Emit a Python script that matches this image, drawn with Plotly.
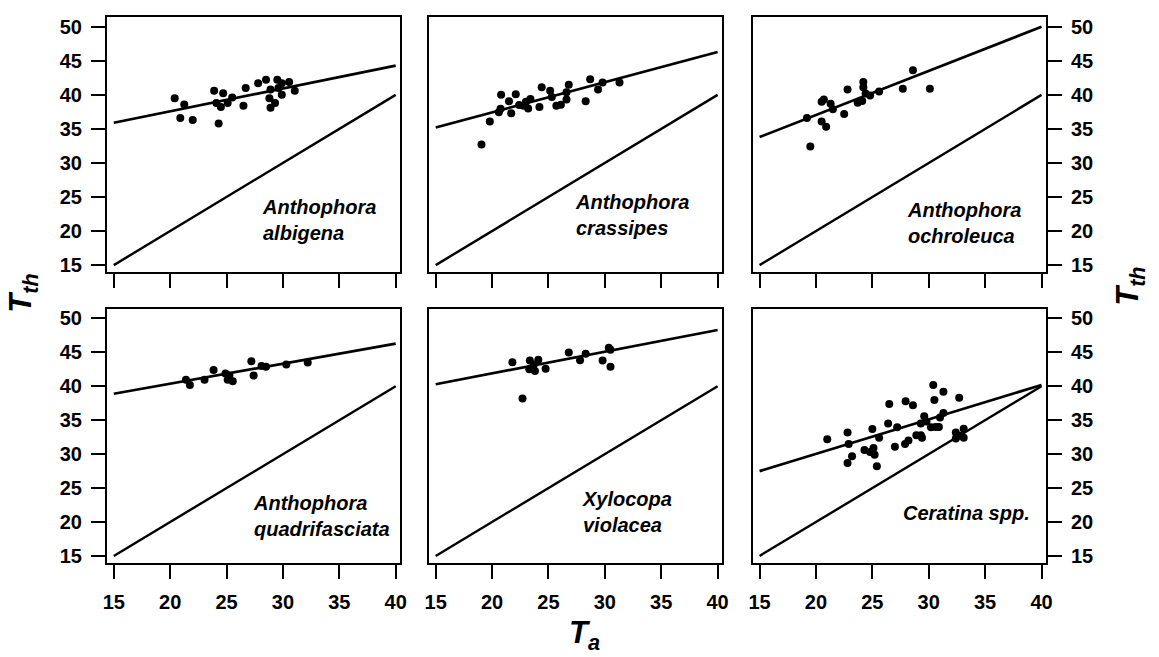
import plotly.graph_objects as go

# ---------------- data ----------------
species = ["Anthophora<br>albigena", "Anthophora<br>crassipes", "Anthophora<br>ochroleuca",
           "Anthophora<br>quadrifasciata", "Xylocopa<br>violacea", "Ceratina spp."]

ta_1 = [20.4, 21.25, 20.9, 22.0, 23.9, 24.7, 24.1, 24.5, 24.3, 25.1, 25.5, 26.5, 26.7,
        27.8, 28.5, 28.8, 28.9, 28.9, 29.3, 29.5, 29.9, 29.9, 30.55, 31.05, 29.6]
tth_1 = [39.5, 38.6, 36.6, 36.3, 40.6, 40.25, 38.8, 38.2, 35.8, 38.8, 39.6, 38.4, 41.0,
         41.7, 42.2, 39.5, 38.1, 40.8, 38.8, 42.2, 41.7, 40.0, 41.9, 40.6, 41.0]

ta_2 = [19.06, 19.8, 20.6, 20.8, 20.75, 21.5, 21.7, 22.1, 22.4, 22.8, 23.2, 23.4, 24.2,
        24.4, 25.15, 25.3, 25.7, 26.1, 26.6, 26.8, 26.6, 28.3, 28.7, 29.4, 29.8, 31.3, 23.0]
tth_2 = [32.7, 36.1, 37.45, 40.0, 37.95, 39.06, 37.3, 40.1, 38.5, 38.4, 38.0, 39.4, 38.2,
         41.1, 40.6, 39.7, 38.4, 38.55, 39.3, 41.5, 40.4, 39.06, 42.3, 40.8, 41.8, 41.8, 39.0]

ta_3 = [19.2, 19.5, 20.5, 20.7, 20.5, 20.9, 21.3, 21.5, 22.5, 22.8, 23.7, 24.2, 24.2,
        24.4, 24.8, 25.6, 27.7, 28.6, 30.1, 24.1]
tth_3 = [36.6, 32.4, 39.0, 39.3, 36.1, 35.3, 38.7, 37.9, 37.2, 40.8, 38.85, 41.9, 41.1,
         40.2, 39.9, 40.5, 40.9, 43.6, 40.9, 39.1]

ta_4 = [21.4, 21.75, 23.05, 23.85, 24.9, 25.1, 25.55, 25.25, 27.2, 27.4, 28.1, 28.5, 30.3, 32.2]
tth_4 = [40.95, 40.2, 40.95, 42.4, 41.9, 40.95, 40.75, 41.6, 43.7, 41.6, 43.0, 42.9, 43.2, 43.5]

ta_5 = [21.8, 22.7, 23.35, 23.3, 23.7, 23.8, 24.1, 24.75, 26.8, 27.8, 28.3, 29.8, 30.35, 30.5, 30.5]
tth_5 = [43.55, 38.2, 43.8, 42.5, 43.2, 42.25, 43.9, 42.6, 45.0, 43.85, 44.8, 43.8, 45.7, 45.4, 42.9]

ta_6 = [21.0, 22.8, 22.9, 23.2, 22.8, 24.3, 25.0, 25.1, 25.2, 25.4, 25.6, 24.8, 26.4, 26.5,
        27.0, 27.2, 27.95, 27.9, 28.2, 28.6, 28.9, 29.3, 29.4, 29.6, 29.8, 30.2, 30.4, 30.5,
        30.6, 30.9, 31.3, 31.3, 31.0, 32.4, 32.4, 32.7, 33.1, 33.1, 32.8, 29.3]
tth_6 = [32.2, 33.2, 31.5, 29.7, 28.7, 30.6, 33.7, 30.9, 29.9, 28.2, 32.4, 30.3, 34.5, 37.4,
         31.1, 33.95, 37.8, 31.5, 32.0, 37.2, 32.8, 34.5, 32.4, 35.6, 34.8, 33.95, 40.2, 38.0,
         34.0, 34.0, 39.2, 36.05, 35.4, 33.2, 32.3, 38.3, 33.75, 32.4, 32.7, 32.8]

# regression lines: T_th at T_a = 15 and at T_a = 40
reg_at15 = [35.9, 35.2, 33.8, 38.9, 40.3, 27.5]
reg_at40 = [44.3, 46.3, 50.0, 46.3, 48.3, 40.2]
line_x = [15, 40]            # T_a range of drawn lines
iso_y = [15, 40]             # T_th = T_a reference line

# species label anchor (data coords, left edge / vertical middle)
lab_x = [28.0, 27.2, 27.9, 27.2, 27.8, 27.5]
lab_y = [21.6, 22.4, 21.2, 20.9, 21.45, 21.3]

x_ticks = [15, 20, 25, 30, 35, 40]
y_ticks = [15, 20, 25, 30, 35, 40, 45, 50]

tas = [ta_1, ta_2, ta_3, ta_4, ta_5, ta_6]
tths = [tth_1, tth_2, tth_3, tth_4, tth_5, tth_6]

# ---------------- layout ----------------
W, H = 1159, 657
col_px = [(104, 400), (429, 725), (756, 1052)]
row_px = [(16, 273), (310, 566)]
FONT = "Liberation Sans, Arial, sans-serif"
TICKFONT = dict(family=FONT, size=20, color="black", weight="bold")

fig = go.Figure()
layout = dict(width=W, height=H, margin=dict(l=0, r=0, t=0, b=0),
              paper_bgcolor="white", plot_bgcolor="white", showlegend=False,
              font=dict(family=FONT, color="black"))
annotations = []

for i in range(6):
    r, c = divmod(i, 3)
    n = i + 1
    xa = "x" if n == 1 else f"x{n}"
    ya = "y" if n == 1 else f"y{n}"
    xkey = "xaxis" if n == 1 else f"xaxis{n}"
    ykey = "yaxis" if n == 1 else f"yaxis{n}"

    x0, x1 = col_px[c]
    y0, y1 = row_px[r]
    xdom = [x0 / W, x1 / W]
    ydom = [1 - y1 / H, 1 - y0 / H]

    layout[xkey] = dict(domain=xdom, anchor=ya, range=[14.4, 40.4],
                        tickvals=x_ticks, showticklabels=(r == 1),
                        ticks="outside", ticklen=14, tickwidth=2, tickcolor="black",
                        ticklabelstandoff=6,
                        showline=True, linewidth=2, linecolor="black", mirror=True,
                        showgrid=False, zeroline=False, tickfont=TICKFONT)
    yd = dict(domain=ydom, anchor=xa, range=[14.0, 51.45], tickvals=y_ticks,
              showline=True, linewidth=2, linecolor="black", mirror=True,
              showgrid=False, zeroline=False, tickfont=TICKFONT)
    if c == 0:
        yd.update(ticks="outside", ticklen=14, tickwidth=2, tickcolor="black",
                  showticklabels=True, side="left", ticklabelstandoff=5)
    elif c == 2:
        yd.update(ticks="outside", ticklen=14, tickwidth=2, tickcolor="black",
                  showticklabels=True, side="right", ticklabelstandoff=5)
    else:
        yd.update(ticks="", showticklabels=False)
    layout[ykey] = yd

    # 1:1 line
    fig.add_trace(go.Scatter(x=line_x, y=iso_y, mode="lines", xaxis=xa, yaxis=ya,
                             line=dict(color="black", width=2.4), hoverinfo="skip"))
    # regression line
    fig.add_trace(go.Scatter(x=line_x, y=[reg_at15[i], reg_at40[i]], mode="lines",
                             xaxis=xa, yaxis=ya,
                             line=dict(color="black", width=2.7), hoverinfo="skip"))
    # data points
    fig.add_trace(go.Scatter(x=tas[i], y=tths[i], mode="markers", xaxis=xa, yaxis=ya,
                             marker=dict(color="black", size=8)))

    annotations.append(dict(xref=xa, yref=ya, x=lab_x[i], y=lab_y[i],
                            text=f"<b><i>{species[i]}</i></b>", showarrow=False,
                            xanchor="left", yanchor="middle", align="left",
                            font=dict(family=FONT, size=20, color="black")))

tth_title = "<b><i>T</i></b><sub><b><i>th</i></b></sub>"
annotations.append(dict(xref="paper", yref="paper", x=-3 / W, y=1 - 295 / H,
                        text=tth_title, textangle=-90, showarrow=False,
                        font=dict(family=FONT, size=31, color="black")))
annotations.append(dict(xref="paper", yref="paper", x=1159 / W, y=1 - 288 / H,
                        text=tth_title, textangle=-90, showarrow=False,
                        font=dict(family=FONT, size=31, color="black")))
annotations.append(dict(xref="paper", yref="paper", x=586 / W, y=1 - 661 / H,
                        text="<b><i>T</i></b><sub><b><i>a</i></b></sub>", showarrow=False,
                        font=dict(family=FONT, size=31, color="black")))

layout["annotations"] = annotations
fig.update_layout(**layout)
fig.write_html("out.html", config={"displayModeBar": False},
               post_script="document.body.style.margin='0';document.body.style.overflow='hidden';")
